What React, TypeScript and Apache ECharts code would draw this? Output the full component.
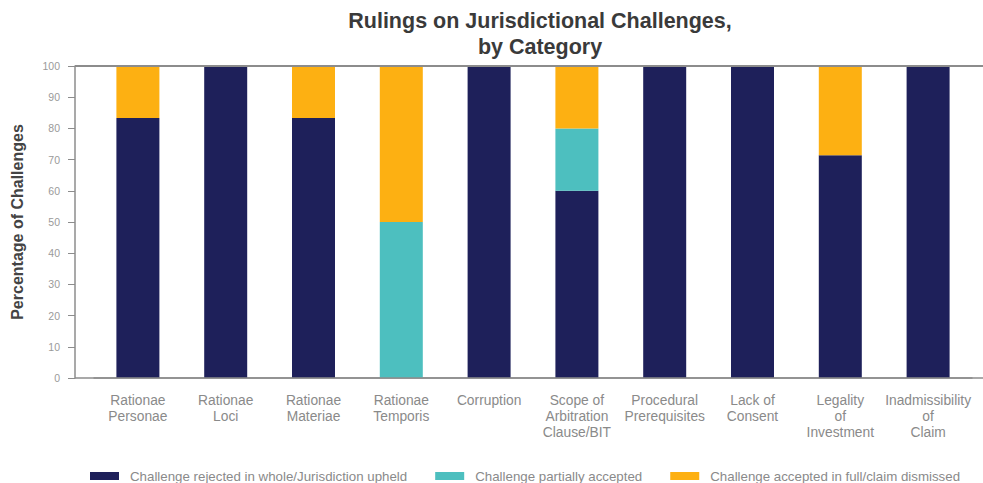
import React, { useEffect, useRef } from "react";
import * as echarts from "echarts";

const categories = [
  "Rationae\nPersonae",
  "Rationae\nLoci",
  "Rationae\nMateriae",
  "Rationae\nTemporis",
  "Corruption",
  "Scope of\nArbitration\nClause/BIT",
  "Procedural\nPrerequisites",
  "Lack of\nConsent",
  "Legality\nof\nInvestment",
  "Inadmissibility\nof\nClaim",
];
const rejected = [83.3, 100, 83.3, 0, 100, 60, 100, 100, 71.4, 100];
const partial = [0, 0, 0, 50, 0, 20, 0, 0, 0, 0];
const accepted = [16.7, 0, 16.7, 50, 0, 20, 0, 0, 28.6, 0];
const yTicks = [0, 10, 20, 30, 40, 50, 60, 70, 80, 90, 100];

const seriesNames = [
  "Challenge rejected in whole/Jurisdiction upheld",
  "Challenge partially accepted",
  "Challenge accepted in full/claim dismissed",
];
const colors = ["#1e205a", "#4dbfbf", "#fdb012"];

export default function App() {
  const ref = useRef<HTMLDivElement>(null);
  useEffect(() => {
    if (!ref.current) return;
    const chart = echarts.init(ref.current, null, { renderer: "svg" });
    const font = "'Liberation Sans', Arial, sans-serif";
    const axisColor = "#8c8c8c";
    const data = [rejected, partial, accepted];
    chart.setOption({
      animation: false,
      textStyle: { fontFamily: font },
      title: {
        text: "Rulings on Jurisdictional Challenges,\nby Category",
        left: 535,
        textAlign: "center",
        top: 3,
        textStyle: {
          fontFamily: font,
          fontSize: 21.5,
          fontWeight: "bold",
          color: "#3a3a3a",
          lineHeight: 26,
        },
      },
      grid: { left: 94, right: 11, top: 66, bottom: 105, containLabel: false },
      legend: {
        top: 469,
        left: 90,
        padding: 0,
        itemWidth: 29,
        itemHeight: 8,
        itemGap: 28,
        icon: "rect",
        textStyle: { fontSize: 13.3, lineHeight: 14, color: "#8a8a8a", padding: [0, 0, 0, 6] },
        data: seriesNames,
      },
      xAxis: {
        type: "category",
        data: categories,
        axisLine: { lineStyle: { color: axisColor, width: 1.5 } },
        axisTick: { alignWithLabel: true, length: 5, lineStyle: { color: axisColor } },
        axisLabel: {
          interval: 0,
          color: "#8a8a8a",
          fontSize: 13.8,
          lineHeight: 16,
          margin: 14,
        },
      },
      yAxis: {
        type: "value",
        min: 0,
        max: 100,
        interval: 10,
        offset: 19,
        name: "Percentage of Challenges",
        nameLocation: "middle",
        nameGap: 50,
        nameTextStyle: { fontSize: 16, fontWeight: "bold", color: "#444444" },
        axisLine: { show: true, lineStyle: { color: axisColor, width: 1.5 } },
        axisTick: { show: true, length: 7, lineStyle: { color: axisColor } },
        axisLabel: {
          color: "#9a9a9a",
          fontSize: 10.5,
          margin: 15,
          formatter: (v: number) => (yTicks.includes(v) ? String(v) : ""),
        },
        splitLine: { show: false },
      },
      graphic: [
        {
          type: "line",
          shape: { x1: 75, y1: 66, x2: 983, y2: 66 },
          style: { stroke: axisColor, lineWidth: 2 },
          z: 10,
        },
        {
          type: "line",
          shape: { x1: 75, y1: 378, x2: 983, y2: 378 },
          style: { stroke: axisColor, lineWidth: 1.5 },
          z: 10,
        },
      ],
      series: seriesNames.map((name, i) => ({
        name,
        type: "bar",
        stack: "total",
        barWidth: 43,
        itemStyle: { color: colors[i] },
        data: data[i],
      })),
    });
    return () => chart.dispose();
  }, []);
  return <div ref={ref} style={{ width: 983, height: 483, position: "absolute", left: 0, top: 0 }} />;
}
